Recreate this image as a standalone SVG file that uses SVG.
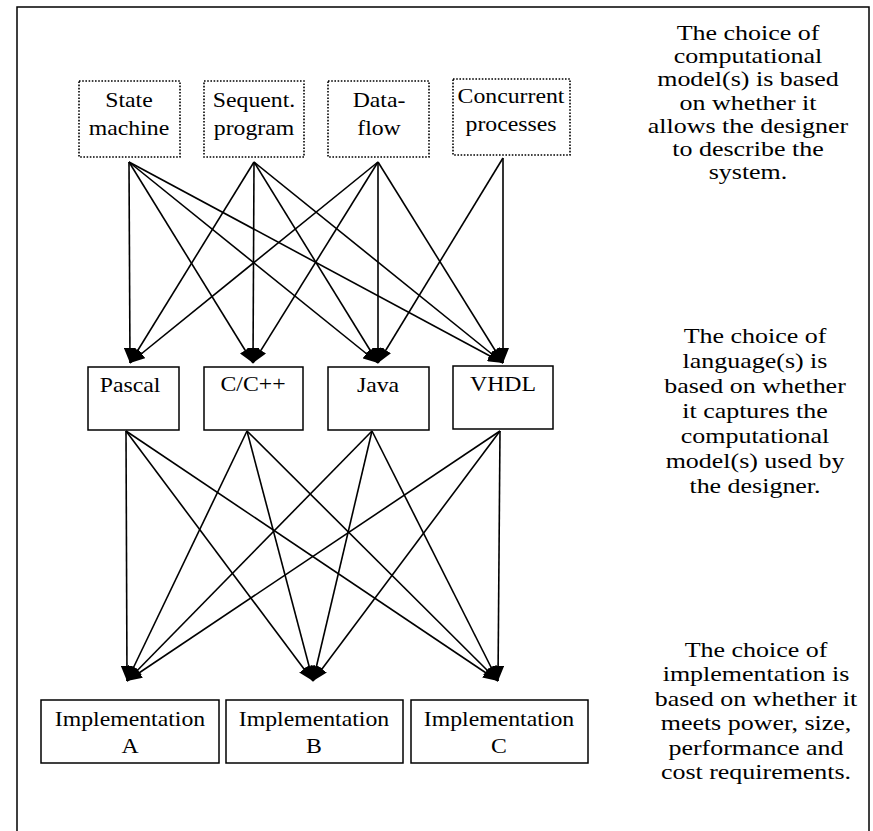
<svg xmlns="http://www.w3.org/2000/svg" width="873" height="831" viewBox="0 0 873 831">
<defs>
<style>
.frame{fill:none;stroke:#000;stroke-width:1.5}
.dot{fill:#fff;stroke:#000;stroke-width:1.6;stroke-dasharray:1.6 1.6}
.box{fill:#fff;stroke:#000;stroke-width:1.5}
.lbl{font-family:"Liberation Serif","Times New Roman",serif;font-size:22px;fill:#000;text-anchor:middle}
.note{font-family:"Liberation Serif","Times New Roman",serif;font-size:22px;fill:#000;text-anchor:middle}
.e{stroke:#000;stroke-width:1.6;fill:none;marker-end:url(#ah)}
</style>
<marker id="ah" markerUnits="userSpaceOnUse" markerWidth="16" markerHeight="12" refX="15" refY="6" orient="auto">
<path d="M0,0 L15,6 L0,12 Z" fill="#000"/>
</marker>
</defs>
<rect width="873" height="831" fill="#fff"/>
<rect class="frame" x="17" y="7" width="852" height="840"/>

<g id="connectors">
<line class="e" x1="129" y1="162" x2="130" y2="363"/>
<line class="e" x1="129" y1="162" x2="253" y2="363"/>
<line class="e" x1="129" y1="162" x2="378" y2="363"/>
<line class="e" x1="129" y1="162" x2="503" y2="363"/>
<line class="e" x1="254" y1="162" x2="130" y2="363"/>
<line class="e" x1="254" y1="162" x2="253" y2="363"/>
<line class="e" x1="254" y1="162" x2="378" y2="363"/>
<line class="e" x1="254" y1="162" x2="503" y2="363"/>
<line class="e" x1="378" y1="162" x2="130" y2="363"/>
<line class="e" x1="378" y1="162" x2="253" y2="363"/>
<line class="e" x1="378" y1="162" x2="378" y2="363"/>
<line class="e" x1="378" y1="162" x2="503" y2="363"/>
<line class="e" x1="503" y1="158" x2="378" y2="363"/>
<line class="e" x1="503" y1="158" x2="503" y2="363"/>

<line class="e" x1="126" y1="431" x2="127" y2="681"/>
<line class="e" x1="126" y1="431" x2="313" y2="681"/>
<line class="e" x1="126" y1="431" x2="498" y2="681"/>
<line class="e" x1="247" y1="431" x2="127" y2="681"/>
<line class="e" x1="247" y1="431" x2="313" y2="681"/>
<line class="e" x1="247" y1="431" x2="498" y2="681"/>
<line class="e" x1="372" y1="431" x2="127" y2="681"/>
<line class="e" x1="372" y1="431" x2="313" y2="681"/>
<line class="e" x1="372" y1="431" x2="498" y2="681"/>
<line class="e" x1="500" y1="431" x2="127" y2="681"/>
<line class="e" x1="500" y1="431" x2="313" y2="681"/>
<line class="e" x1="500" y1="431" x2="498" y2="681"/>
</g>

<g id="state-machine">
<rect class="dot" x="79" y="81" width="101" height="76"/>
<text class="lbl" transform="translate(129,107) scale(1.08,1)">State</text>
<text class="lbl" transform="translate(129,135) scale(1.08,1)">machine</text>
</g>
<g id="sequent-program">
<rect class="dot" x="204" y="81" width="100" height="76"/>
<text class="lbl" transform="translate(254,107) scale(1.08,1)">Sequent.</text>
<text class="lbl" transform="translate(254,135) scale(1.08,1)">program</text>
</g>
<g id="data-flow">
<rect class="dot" x="328" y="81" width="101" height="76"/>
<text class="lbl" transform="translate(379,107) scale(1.08,1)">Data-</text>
<text class="lbl" transform="translate(379,135) scale(1.08,1)">flow</text>
</g>
<g id="concurrent-processes">
<rect class="dot" x="453" y="79" width="117" height="76"/>
<text class="lbl" transform="translate(511,103) scale(1.08,1)">Concurrent</text>
<text class="lbl" transform="translate(511,131) scale(1.08,1)">processes</text>
</g>

<g id="pascal">
<rect class="box" x="88" y="367" width="91" height="63"/>
<text class="lbl" transform="translate(130,392) scale(1.08,1)">Pascal</text>
</g>
<g id="c-cpp">
<rect class="box" x="204" y="367" width="99" height="63"/>
<text class="lbl" transform="translate(253,391) scale(1.08,1)">C/C++</text>
</g>
<g id="java">
<rect class="box" x="328" y="367" width="101" height="63"/>
<text class="lbl" transform="translate(378,392) scale(1.08,1)">Java</text>
</g>
<g id="vhdl">
<rect class="box" x="453" y="366" width="100" height="63"/>
<text class="lbl" transform="translate(503,391) scale(1.08,1)">VHDL</text>
</g>

<g id="impl-a">
<rect class="box" x="41" y="700" width="178" height="63"/>
<text class="lbl" transform="translate(130,726) scale(1.08,1)">Implementation</text>
<text class="lbl" transform="translate(130,753) scale(1.08,1)">A</text>
</g>
<g id="impl-b">
<rect class="box" x="226" y="700" width="177" height="63"/>
<text class="lbl" transform="translate(314,726) scale(1.08,1)">Implementation</text>
<text class="lbl" transform="translate(314,753) scale(1.08,1)">B</text>
</g>
<g id="impl-c">
<rect class="box" x="411" y="700" width="177" height="63"/>
<text class="lbl" transform="translate(499,726) scale(1.08,1)">Implementation</text>
<text class="lbl" transform="translate(499,753) scale(1.08,1)">C</text>
</g>

<g id="note-model">
<text class="note" transform="translate(748,40) scale(1.18,1)">The choice of</text>
<text class="note" transform="translate(748,63) scale(1.18,1)">computational</text>
<text class="note" transform="translate(748,86) scale(1.18,1)">model(s) is based</text>
<text class="note" transform="translate(748,110) scale(1.18,1)">on whether it</text>
<text class="note" transform="translate(748,133) scale(1.18,1)">allows the designer</text>
<text class="note" transform="translate(748,156) scale(1.18,1)">to describe the</text>
<text class="note" transform="translate(748,179) scale(1.18,1)">system.</text>
</g>
<g id="note-language">
<text class="note" transform="translate(755,343) scale(1.18,1)">The choice of</text>
<text class="note" transform="translate(755,368) scale(1.18,1)">language(s) is</text>
<text class="note" transform="translate(755,393) scale(1.18,1)">based on whether</text>
<text class="note" transform="translate(755,418) scale(1.18,1)">it captures the</text>
<text class="note" transform="translate(755,443) scale(1.18,1)">computational</text>
<text class="note" transform="translate(755,468) scale(1.18,1)">model(s) used by</text>
<text class="note" transform="translate(755,493) scale(1.18,1)">the designer.</text>
</g>
<g id="note-impl">
<text class="note" transform="translate(756,657) scale(1.18,1)">The choice of</text>
<text class="note" transform="translate(756,681) scale(1.18,1)">implementation is</text>
<text class="note" transform="translate(756,706) scale(1.18,1)">based on whether it</text>
<text class="note" transform="translate(756,730) scale(1.18,1)">meets power, size,</text>
<text class="note" transform="translate(756,755) scale(1.18,1)">performance and</text>
<text class="note" transform="translate(756,779) scale(1.18,1)">cost requirements.</text>
</g>
</svg>
